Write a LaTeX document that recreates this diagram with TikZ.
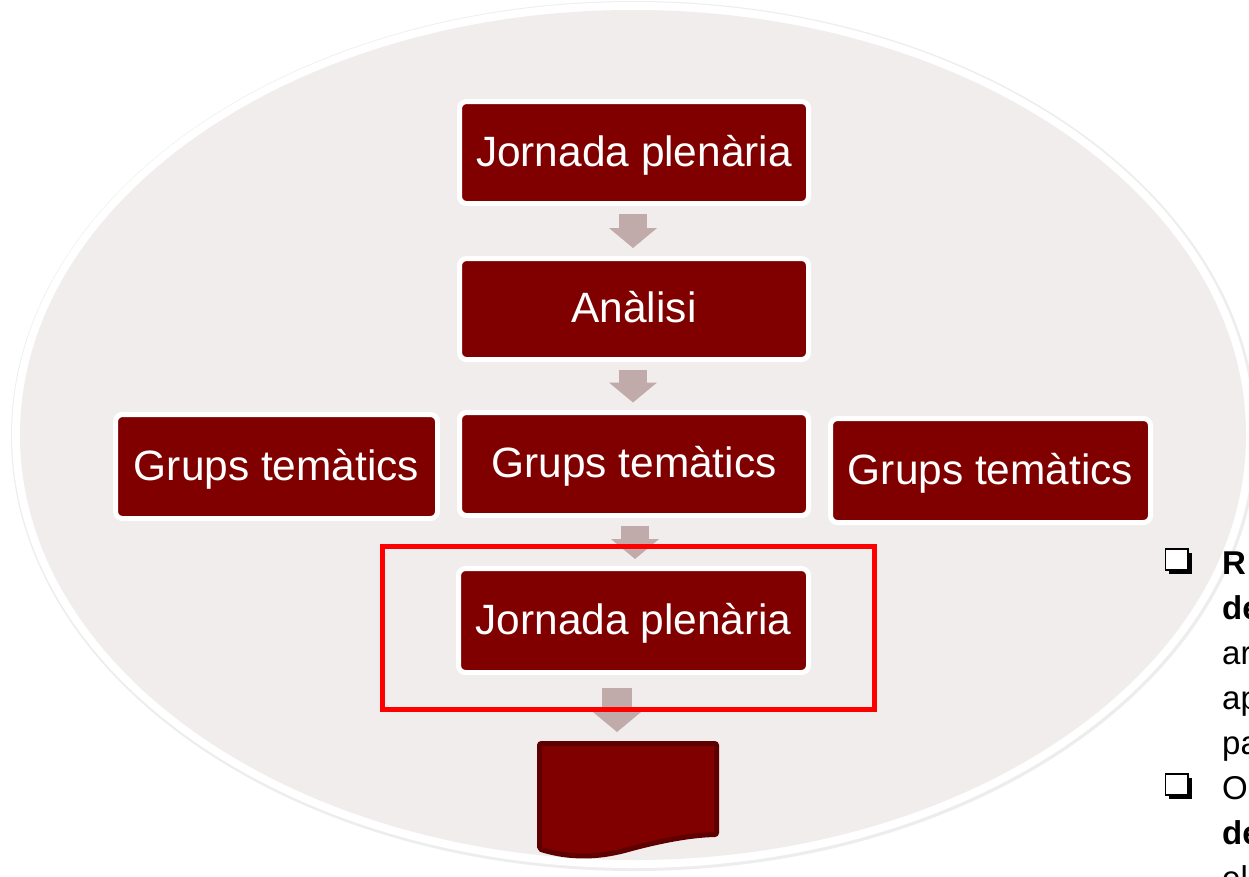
\documentclass[tikz,border=0pt]{standalone}
\usepackage{fontspec}
\setmainfont{Liberation Sans}
\usetikzlibrary{arrows.meta,calc}
\definecolor{boxred}{RGB}{128,0,0}
\definecolor{docedge}{RGB}{94,0,0}
\definecolor{arrowc}{RGB}{193,170,170}
\definecolor{ellfill}{RGB}{240,237,236}
\definecolor{hlred}{RGB}{255,0,0}
\begin{document}
\begin{tikzpicture}[x=1pt,y=-1pt,
  stagebox/.style={rectangle, rounded corners=7pt, fill=boxred, draw=white,
    line width=5pt, inner sep=0pt, text=white,
    font=\fontsize{42.4}{50}\selectfont, text height=36.5pt, text depth=9pt},
  blockarrow/.style={draw=arrowc, line width=28pt,
    -{Triangle[width=47pt,length=20pt]}},
  hlbox/.style={rectangle, draw=hlred, line width=5pt, inner sep=0pt},
  sidetext/.style={anchor=base west, inner sep=0pt,
    font=\fontsize{33}{39}\selectfont},
]
\useasboundingbox (0,0) rectangle (1249,876);
\clip (0,0) rectangle (1249,876);
\fill[white] (0,0) rectangle (1249,876);

% background ellipse with white ring and faint shadow
\fill[black!7] (634,436) ellipse [x radius=623, y radius=435];
\fill[white] (633,435) ellipse [x radius=621, y radius=433];
\fill[ellfill] (633,435) ellipse [x radius=613, y radius=425];

% stage boxes
\node[stagebox, minimum width=349pt, minimum height=102pt] (j1) at (634,152.5) {Jornada plenària};
\node[stagebox, minimum width=349pt, minimum height=101pt] (an) at (634,309) {Anàlisi};
\node[stagebox, minimum width=349pt, minimum height=103pt] (gc) at (634,464) {Grups temàtics};
\node[stagebox, minimum width=322pt, minimum height=104pt] (gl) at (276.5,466.5) {Grups temàtics};
\node[stagebox, minimum width=320pt, minimum height=104pt] (gr) at (990.5,470.5) {Grups temàtics};
\node[stagebox, minimum width=350pt, minimum height=104pt] (j2) at (633.5,620.5) {Jornada plenària};

% document shape
\coordinate (doctop) at (628,741);
\draw[fill=boxred, draw=docedge, line width=5pt, rounded corners=2pt]
  (539.5,849) -- (539.5,743.5) -- (716.5,743.5) -- (716.5,834.5)
  .. controls (690,835) and (660,841) .. (630,849)
  .. controls (605,856) and (575,860) .. (539.5,849) -- cycle;

% block arrows
\draw[blockarrow] ($(j1.south)+(-1,7.5)$) -- ($(an.north)+(-1,-8)$);
\draw[blockarrow] ($(an.south)+(-1,7.5)$) -- ($(gc.north)+(-1,-7.5)$);
\draw[blockarrow] ($(gc.south)+(1,7.5)$) -- ($(j2.north)+(1.5,-7)$);
\draw[blockarrow, line width=30pt] ($(j2.south)+(-16.5,12.5)$) -- ($(doctop)+(-11,-9)$);

% highlight rectangle
\node[hlbox, minimum width=492.5pt, minimum height=163pt] (hl) at (628.25,628) {};

% bullets (shadowed squares)
\foreach \yb in {574,799}{
  \fill[black] (1169,\yb-21) rectangle (1192,\yb);
  \draw[fill=white, draw=black, line width=1.6pt] (1165.5,\yb-25) rectangle (1188,\yb-4);
}

% cut-off side text
\node[sidetext] (t1) at (1222,574) {\textbf{R}};
\node[sidetext] (t2) at (1222,619) {\textbf{de}};
\node[sidetext] (t3) at (1222,664) {ar};
\node[sidetext] (t4) at (1222,709) {ap};
\node[sidetext] (t5) at (1222,754) {pa};
\node[sidetext] (t6) at (1222,799) {O};
\node[sidetext] (t7) at (1222,844) {\textbf{de}};
\node[sidetext] (t8) at (1222,889) {el};
\end{tikzpicture}
\end{document}
